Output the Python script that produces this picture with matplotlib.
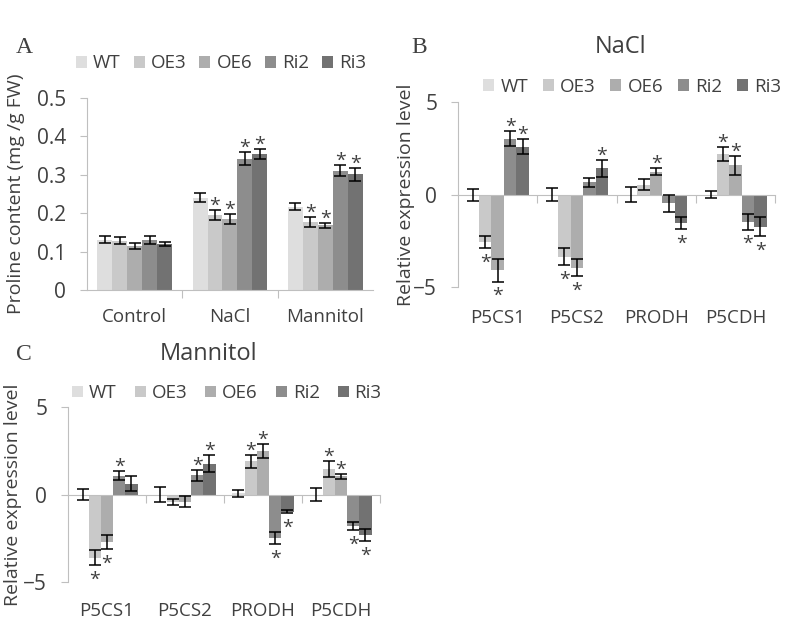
import matplotlib
matplotlib.use("Agg")
import matplotlib.pyplot as plt
import numpy as np
from matplotlib.transforms import blended_transform_factory

plt.rcParams['font.family'] = ['Open Sans', 'DejaVu Sans']

series = ['WT', 'OE3', 'OE6', 'Ri2', 'Ri3']
colors = ['#DEDEDE', '#C9C9C9', '#ADADAD', '#8D8D8D', '#727272']
text_color = '#404040'
axis_color = '#BFBFBF'

# panel A - proline content
a_groups = ['Control', 'NaCl', 'Mannitol']
a_vals = [[0.131, 0.240, 0.217],
          [0.128, 0.195, 0.177],
          [0.115, 0.185, 0.168],
          [0.130, 0.342, 0.311],
          [0.120, 0.355, 0.301]]
a_errs = [[0.009, 0.012, 0.010],
          [0.009, 0.012, 0.013],
          [0.008, 0.013, 0.006],
          [0.011, 0.017, 0.015],
          [0.006, 0.013, 0.016]]
a_sig = [[0, 0, 0],
         [0, 1, 1],
         [0, 1, 1],
         [0, 1, 1],
         [0, 1, 1]]

genes = ['P5CS1', 'P5CS2', 'PRODH', 'P5CDH']

# panel B - NaCl
b_vals = [[0.0, 0.0, 0.0, 0.0],
          [-2.55, -3.35, 0.54, 2.2],
          [-4.1, -3.95, 1.25, 1.6],
          [3.03, 0.66, -0.47, -1.46],
          [2.6, 1.43, -1.52, -1.73]]
b_errs = [[0.33, 0.35, 0.4, 0.2],
          [0.33, 0.45, 0.3, 0.4],
          [0.6, 0.47, 0.17, 0.52],
          [0.4, 0.22, 0.47, 0.43],
          [0.42, 0.45, 0.33, 0.5]]
b_sig = [[0, 0, 0, 0],
         [1, 1, 0, 1],
         [1, 1, 1, 1],
         [1, 0, 0, 1],
         [1, 1, 1, 1]]

# panel C - Mannitol
c_vals = [[0.0, 0.0, 0.08, 0.0],
          [-3.6, -0.45, 1.9, 1.47],
          [-2.7, -0.4, 2.5, 1.05],
          [1.09, 1.1, -2.5, -1.8],
          [0.63, 1.77, -0.97, -2.32]]
c_errs = [[0.33, 0.43, 0.2, 0.38],
          [0.43, 0.17, 0.36, 0.45],
          [0.41, 0.3, 0.4, 0.15],
          [0.28, 0.33, 0.35, 0.22],
          [0.43, 0.48, 0.1, 0.36]]
c_sig = [[0, 0, 0, 0],
         [1, 0, 1, 1],
         [1, 0, 1, 1],
         [1, 1, 1, 1],
         [0, 1, 1, 1]]

width = 0.157


def draw_bars(ax, vals, errs, sig):
    n = len(vals[0])
    x = np.arange(n)
    for i, name in enumerate(series):
        pos = x + (i - 2) * width
        ax.bar(pos, vals[i], width, color=colors[i], label=name, zorder=2)
        ax.errorbar(pos, vals[i], yerr=errs[i], fmt='none', ecolor='black',
                    elinewidth=1.1, capsize=4, capthick=1.1, zorder=3)
        for j in range(n):
            if not sig[i][j]:
                continue
            v = vals[i][j]
            if v >= 0:
                ax.annotate('*', (pos[j], v + errs[i][j]), xytext=(0, 3),
                            textcoords='offset points', ha='center', va='center',
                            fontsize=14, color=text_color, zorder=4)
            else:
                ax.annotate('*', (pos[j], v - errs[i][j]), xytext=(0, -10.5),
                            textcoords='offset points', ha='center', va='center',
                            fontsize=14, color=text_color, zorder=4)


def style_axis(ax):
    for s in ['top', 'right']:
        ax.spines[s].set_visible(False)
    ax.spines['left'].set_color(axis_color)
    ax.spines['bottom'].set_color(axis_color)
    ax.tick_params(axis='y', colors=axis_color, labelcolor=text_color,
                   labelsize=15, length=5, width=0.8, pad=10)
    ax.tick_params(axis='x', which='both', colors=axis_color, labelcolor=text_color,
                   labelsize=13.5, width=0.8)


def legend(fig, ax, x, y, spacing):
    h, l = ax.get_legend_handles_labels()
    fig.legend(h, l, loc='center left', bbox_to_anchor=(x, y), ncol=5, frameon=False,
               handlelength=0.59, handleheight=0.59, handletextpad=0.32,
               columnspacing=spacing, fontsize=13.5, labelcolor=text_color,
               borderpad=0, borderaxespad=0)


fig = plt.figure(figsize=(7.87, 6.2), dpi=100)

# A
ax = fig.add_axes([0.1105, 0.5323, 0.3634, 0.3097])
draw_bars(ax, a_vals, a_errs, a_sig)
ax.set_xlim(-0.5, 2.5)
ax.set_ylim(0, 0.5)
ax.set_yticks([0, 0.1, 0.2, 0.3, 0.4, 0.5])
ax.set_yticklabels(['0', '0.1', '0.2', '0.3', '0.4', '0.5'])
ax.set_xticks(range(3))
ax.set_xticklabels(a_groups)
ax.set_xticks([0.5, 1.5], minor=True)
style_axis(ax)
ax.tick_params(axis='x', which='major', length=0, pad=13)
ax.tick_params(axis='x', which='minor', length=6, direction='out')
ax.set_ylabel('Proline content (mg /g FW)', fontsize=14, color=text_color)
ax.yaxis.set_label_coords(-0.217, 0.5)
legend(fig, ax, 0.0966, 0.898, 0.69)
fig.text(0.02, 0.924, 'A', family='Liberation Serif', fontsize=17, color=text_color, va='center')


def expr_panel(rect, vals, errs, sig, label_x):
    ax = fig.add_axes(rect)
    draw_bars(ax, vals, errs, sig)
    ax.set_xlim(-0.5, 3.5)
    ax.set_ylim(-5, 5)
    ax.set_yticks([-5, 0, 5])
    ax.spines['bottom'].set_position(('data', 0))
    ax.set_xticks(range(4))
    ax.set_xticklabels([])
    ax.set_xticks([0.5, 1.5, 2.5, 3.5], minor=True)
    style_axis(ax)
    ax.tick_params(axis='x', which='major', length=0)
    ax.tick_params(axis='x', which='minor', length=6, direction='out')
    tr = blended_transform_factory(ax.transData, ax.transAxes)
    for k, g in enumerate(genes):
        ax.text(k, -0.168, g, transform=tr, ha='center', va='center',
                fontsize=13.5, color=text_color)
    ax.set_ylabel('Relative expression level', fontsize=14, color=text_color)
    ax.yaxis.set_label_coords(label_x, 0.5)
    return ax


# B
ax = expr_panel([0.582, 0.537, 0.4028, 0.298], b_vals, b_errs, b_sig, -0.136)
legend(fig, ax, 0.614, 0.86, 0.79)
fig.text(0.788, 0.924, 'NaCl', fontsize=17, color=text_color, ha='center', va='center')
fig.text(0.523, 0.924, 'B', family='Liberation Serif', fontsize=17, color=text_color, va='center')

# C
ax = expr_panel([0.0864, 0.0613, 0.3964, 0.282], c_vals, c_errs, c_sig, -0.147)
legend(fig, ax, 0.0915, 0.366, 0.95)
fig.text(0.265, 0.429, 'Mannitol', fontsize=17, color=text_color, ha='center', va='center')
fig.text(0.02, 0.429, 'C', family='Liberation Serif', fontsize=17, color=text_color, va='center')

fig.savefig('out.png', dpi=100)
